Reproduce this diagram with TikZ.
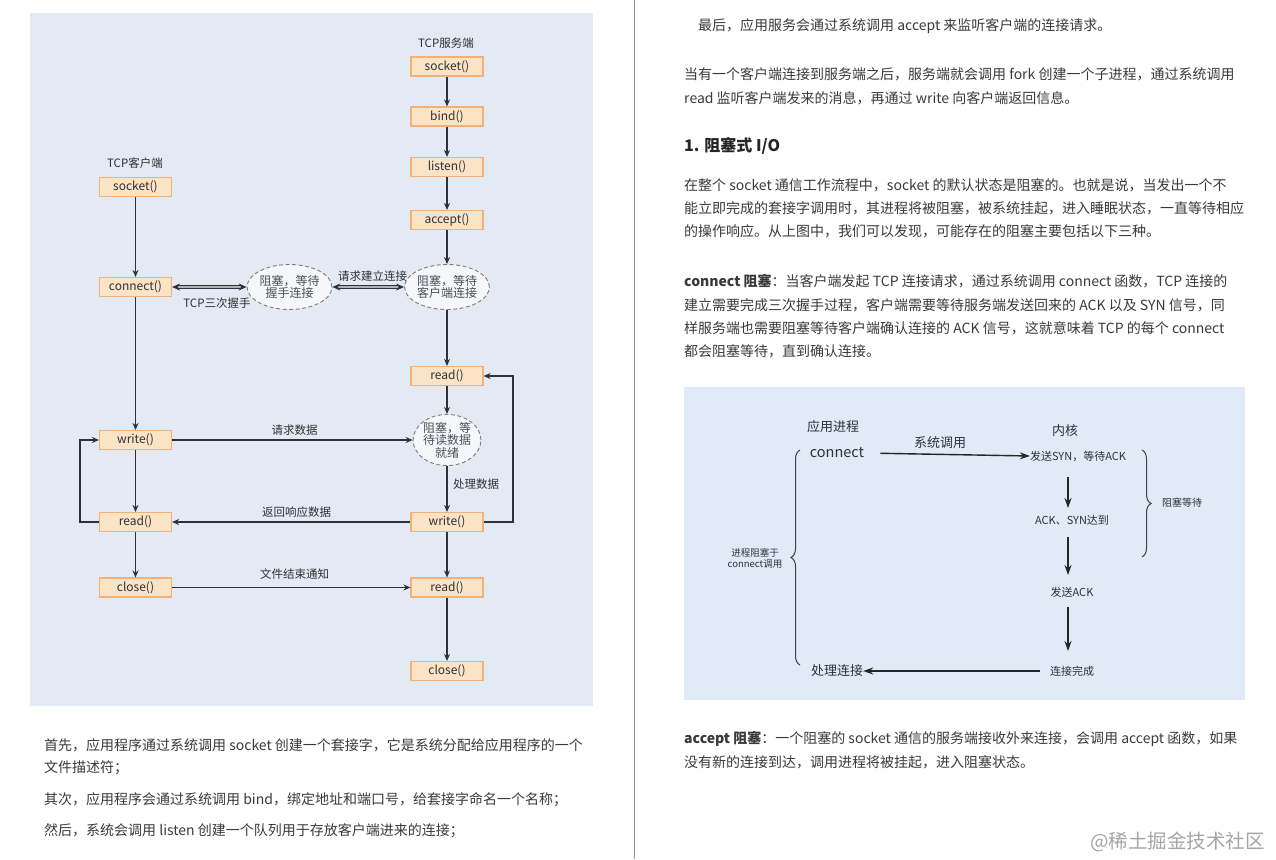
\documentclass[tikz,border=0pt]{standalone}
\usepackage{fontspec}
\setmainfont{Noto Sans CJK SC}
\usetikzlibrary{shapes.geometric,arrows.meta,decorations.pathreplacing}
\definecolor{bgL}{RGB}{227,234,243}
\definecolor{bgR}{RGB}{224,235,247}
\definecolor{boxfill}{RGB}{251,227,197}
\definecolor{boxdraw}{RGB}{240,178,122}
\definecolor{ink}{RGB}{45,49,57}
\definecolor{txt}{RGB}{58,58,58}
\definecolor{ellfill}{RGB}{245,247,250}
\definecolor{elldraw}{RGB}{125,125,125}
\definecolor{divider}{RGB}{150,150,150}
\definecolor{wm}{RGB}{165,165,165}
\begin{document}
\begin{tikzpicture}[x=1pt,y=-1pt,
  fnbox/.style={draw=boxdraw,fill=boxfill,line width=1.1pt,minimum width=72pt,minimum height=19pt,inner sep=0pt,font=\fontsize{12}{13}\selectfont,text=ink},
  waitell/.style={ellipse,draw=elldraw,dashed,dash pattern=on 4pt off 2.5pt,fill=ellfill,line width=0.9pt,inner sep=0pt,align=center,font=\fontsize{12}{12.5}\selectfont,text=ink!85},
  lbl/.style={font=\fontsize{11.5}{12.5}\selectfont,text=ink,inner sep=0pt},
  flow/.style={draw=ink,line width=1.2pt,-{Stealth[length=7pt,width=6pt]}},
  dflow/.style={draw=ink,line width=1pt,double=gray!60,double distance=1.6pt,{Stealth[length=8pt,width=7pt]}-{Stealth[length=8pt,width=7pt]}},
  body/.style={anchor=west,inner sep=0pt,font=\fontsize{14}{16}\selectfont,text=txt},
  rlbl/.style={inner sep=0pt,text=ink},
  rflow/.style={draw=black!85,line width=1.4pt,-{Stealth[length=10pt,width=7pt]}},
  brc/.style={draw=black!75,line width=1pt,decorate}
]
\useasboundingbox (0,0) rectangle (1276,859);
\fill[white] (0,0) rectangle (1276,859);
% backgrounds
\fill[bgL] (30,13) rectangle (593,706);
\fill[bgR] (684,387) rectangle (1245,700);
\draw[divider,line width=0.8pt] (634,0) -- (634,859);

% ---------- left diagram ----------
\node[lbl] (srvlbl) at (446,43) {TCP服务端};
\node[fnbox] (ssock) at (447,66.5) {socket()};
\node[fnbox] (sbind) at (447,116.5) {bind()};
\node[fnbox] (slist) at (447,167) {listen()};
\node[fnbox] (sacc) at (447,220) {accept()};
\node[waitell,minimum width=70pt,minimum height=45pt] (eacc) at (447,287) {阻塞，等待\\客户端连接};
\node[fnbox] (sread) at (447,376) {read()};
\node[waitell,minimum width=65pt,minimum height=46pt] (eread) at (447,440) {阻塞，等\\待读数据\\就绪};
\node[fnbox] (swrite) at (447,522) {write()};
\node[fnbox] (sread2) at (447,587.5) {read()};
\node[fnbox] (sclose) at (447,671) {close()};

\node[lbl] (clilbl) at (135,163) {TCP客户端};
\node[fnbox] (csock) at (135.5,187) {socket()};
\node[fnbox] (cconn) at (135.5,287) {connect()};
\node[fnbox] (cwrite) at (135.5,440) {write()};
\node[fnbox] (cread) at (135.5,522) {read()};
\node[fnbox] (cclose) at (135.5,587.5) {close()};

\node[waitell,minimum width=74pt,minimum height=45pt] (ehs) at (289.5,287) {阻塞，等待\\握手连接};

\node[lbl] (l3hs) at (217,303) {TCP三次握手};
\node[lbl] (lreq) at (372.5,276) {请求建立连接};
\node[lbl] (ldata) at (294.5,430) {请求数据};
\node[lbl] (lproc) at (476,484) {处理数据};
\node[lbl] (lresp) at (296.5,512) {返回响应数据};
\node[lbl] (leof) at (294.5,574) {文件结束通知};

\coordinate (cl1) at (80,522);
\coordinate (cl2) at (80,440);
\coordinate (sl1) at (513,522);
\coordinate (sl2) at (513,376);

\draw[flow] (ssock) -- (sbind);
\draw[flow] (sbind) -- (slist);
\draw[flow] (slist) -- (sacc);
\draw[flow] (sacc) -- (eacc);
\draw[flow] (eacc) -- (sread);
\draw[flow] (sread) -- (eread);
\draw[flow] (eread) -- (swrite);
\draw[flow] (swrite) -- (sread2);
\draw[flow] (sread2) -- (sclose);
\draw[flow] (csock) -- (cconn);
\draw[flow] (cconn) -- (cwrite);
\draw[flow] (cwrite) -- (cread);
\draw[flow] (cread) -- (cclose);
\draw[dflow] (cconn.east) -- (ehs.west);
\draw[dflow] (ehs.east) -- (eacc.west);
\draw[flow] (cwrite.east) -- (eread.west);
\draw[flow] (swrite.west) -- (cread.east);
\draw[flow] (cclose.east) -- (sread2.west);
\draw[flow] (cread.west) -- (cl1) -- (cl2) -- (cwrite.west);
\draw[flow] (swrite.east) -- (sl1) -- (sl2) -- (sread.east);

% ---------- left text ----------
\node[body] (pa1) at (44,745) {首先，应用程序通过系统调用 socket 创建一个套接字，它是系统分配给应用程序的一个};
\node[body] (pa2) at (44,768) {文件描述符；};
\node[body] (pa3) at (44,800) {其次，应用程序会通过系统调用 bind，绑定地址和端口号，给套接字命名一个名称；};
\node[body] (pa4) at (44,831) {然后，系统会调用 listen 创建一个队列用于存放客户端进来的连接；};

% ---------- right text ----------
\node[body] (pb1) at (698,26) {最后，应用服务会通过系统调用 accept 来监听客户端的连接请求。};
\node[body] (pb2) at (684,74) {当有一个客户端连接到服务端之后，服务端就会调用 fork 创建一个子进程，通过系统调用};
\node[body] (pb3) at (684,98) {read 监听客户端发来的消息，再通过 write 向客户端返回信息。};
\node[body,font=\fontsize{16}{18}\selectfont\bfseries,text=black!85] (ph) at (684,146) {1. 阻塞式 I/O};
\node[body] (pc1) at (684,185) {在整个 socket 通信工作流程中，socket 的默认状态是阻塞的。也就是说，当发出一个不};
\node[body] (pc2) at (684,208) {能立即完成的套接字调用时，其进程将被阻塞，被系统挂起，进入睡眠状态，一直等待相应};
\node[body] (pc3) at (684,231) {的操作响应。从上图中，我们可以发现，可能存在的阻塞主要包括以下三种。};
\node[body] (pd1) at (684,281) {\textbf{connect 阻塞}：当客户端发起 TCP 连接请求，通过系统调用 connect 函数，TCP 连接的};
\node[body] (pd2) at (684,305) {建立需要完成三次握手过程，客户端需要等待服务端发送回来的 ACK 以及 SYN 信号，同};
\node[body] (pd3) at (684,328) {样服务端也需要阻塞等待客户端确认连接的 ACK 信号，这就意味着 TCP 的每个 connect};
\node[body] (pd4) at (684,351) {都会阻塞等待，直到确认连接。};
\node[body] (pe1) at (684,739) {\textbf{accept 阻塞}：一个阻塞的 socket 通信的服务端接收外来连接，会调用 accept 函数，如果};
\node[body] (pe2) at (684,762) {没有新的连接到达，调用进程将被挂起，进入阻塞状态。};
\node[body,text=wm,font=\fontsize{19.5}{21}\selectfont] (wmk) at (1090,842) {@稀土掘金技术社区};

% ---------- right diagram ----------
\node[rlbl,font=\fontsize{13}{14}\selectfont] (app) at (833,427) {应用进程};
\node[rlbl,font=\fontsize{14.5}{15}\selectfont] (conn) at (837,453) {connect};
\node[rlbl,font=\fontsize{13}{14}\selectfont] (syscall) at (940,443) {系统调用};
\node[rlbl,font=\fontsize{13}{14}\selectfont] (kern) at (1065,431) {内核};
\node[rlbl,font=\fontsize{11}{12}\selectfont] (syn) at (1078,456) {发送SYN，等待ACK};
\node[rlbl,font=\fontsize{11}{12}\selectfont] (acksyn) at (1072,520) {ACK、SYN达到};
\node[rlbl,font=\fontsize{11}{12}\selectfont] (sendack) at (1072,592) {发送ACK};
\node[rlbl,font=\fontsize{11}{12}\selectfont] (done) at (1072,671) {连接完成};
\node[rlbl,font=\fontsize{13}{14}\selectfont] (handle) at (837,671) {处理连接};
\node[rlbl,font=\fontsize{9.5}{11}\selectfont,align=center] (blk) at (755,558) {进程阻塞于\\connect调用};
\node[rlbl,font=\fontsize{10}{11}\selectfont] (wait) at (1182,503) {阻塞等待};

\coordinate (a1s) at (1068,477);
\coordinate (a1e) at (1068,508);
\coordinate (a2s) at (1068,537);
\coordinate (a2e) at (1068,575);
\coordinate (a3s) at (1068,607);
\coordinate (a3e) at (1068,651);
\draw[rflow,shorten <=16pt] (conn.east) -- (syn.west);
\draw[rflow] (a1s) -- (a1e);
\draw[rflow] (a2s) -- (a2e);
\draw[rflow] (a3s) -- (a3e);
\draw[rflow,shorten <=10pt] (done.west) -- (handle.east);
\draw[brc,decoration={brace,amplitude=9pt}] (800,665) -- (800,450);
\draw[brc,decoration={brace,amplitude=9pt}] (1142,450) -- (1142,557);
\end{tikzpicture}
\end{document}
